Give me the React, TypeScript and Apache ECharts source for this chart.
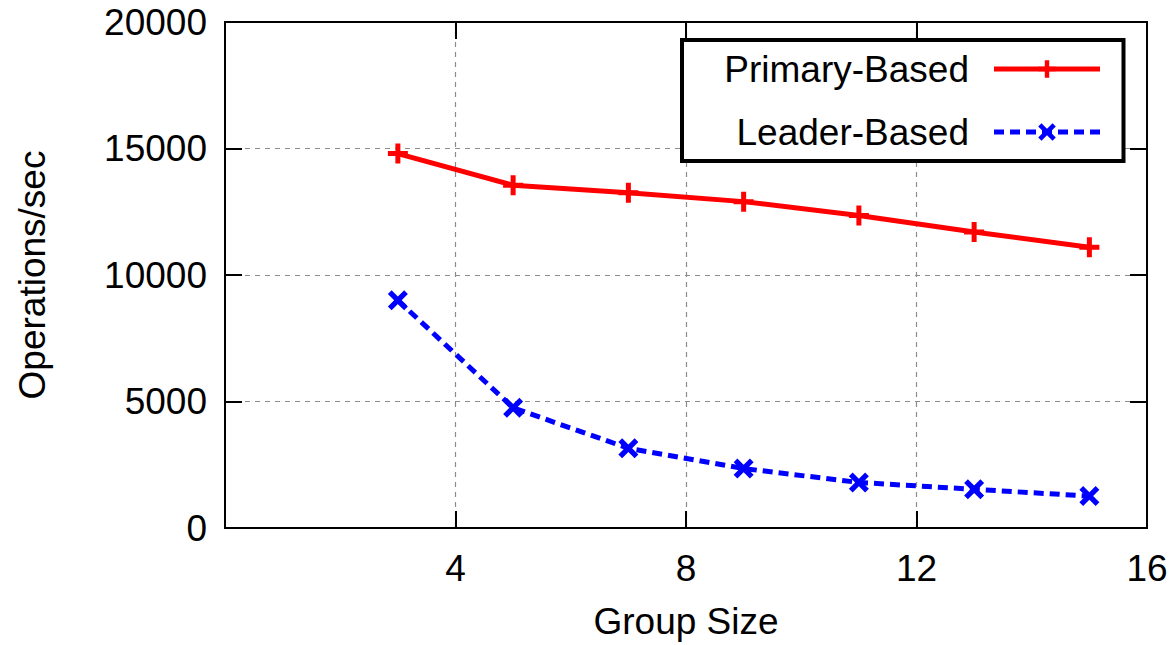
import React, { useEffect, useRef } from "react";
import * as echarts from "echarts";

const groupSizes = [3, 5, 7, 9, 11, 13, 15];
const primaryBased = [14800, 13550, 13250, 12900, 12350, 11700, 11100];
const leaderBased = [9000, 4750, 3150, 2350, 1800, 1530, 1260];
const seriesNames = ["Primary-Based", "Leader-Based"];
const xAxisTitle = "Group Size";
const yAxisTitle = "Operations/sec";

const FONT = "Liberation Sans";
const TICK = 17;
const PLUS = "path://M0,6 L6,6 L6,0 L10,0 L10,6 L16,6 L16,10 L10,10 L10,16 L6,16 L6,10 L0,10 Z";
const CROSS = "path://M0,3 L3,0 L8,5 L13,0 L16,3 L11,8 L16,13 L13,16 L8,11 L3,16 L0,13 L5,8 Z";

// ticks are drawn outward from an axis line shifted inward by TICK px,
// so they appear as inward ticks touching the frame
const tick = () => ({ show: true, inside: false, length: TICK, lineStyle: { color: "#000", width: 2 } });
const line = () => ({ show: false, onZero: false });
const split = () => ({
  show: true,
  showMinLine: false,
  showMaxLine: false,
  lineStyle: { color: "#8c8c8c", width: 1.2, type: [5, 5] as any },
});

export default function App() {
  const ref = useRef<HTMLDivElement>(null);
  useEffect(() => {
    document.body.style.margin = "0";
    const chart = echarts.init(ref.current!, null, { renderer: "svg" });
    chart.setOption({
      animation: false,
      backgroundColor: "#fff",
      grid: {
        left: 225,
        right: 28,
        top: 22,
        bottom: 116,
        show: true,
        borderColor: "#000",
        borderWidth: 2,
        backgroundColor: "transparent",
      },
      legend: {
        orient: "vertical",
        left: 682,
        top: 40,
        align: "right",
        padding: [9, 21, 9, 42],
        itemGap: 23,
        itemWidth: 106,
        itemHeight: 22,
        backgroundColor: "#fff",
        borderColor: "#000",
        borderWidth: 4,
        lineStyle: { width: 5 },
        textStyle: {
          fontFamily: FONT,
          fontSize: 37,
          color: "#000",
          width: 245,
          align: "right",
          padding: [0, 20, 0, 0],
          lineHeight: 40,
        },
        data: seriesNames,
      },
      xAxis: [
        {
          type: "value",
          position: "bottom",
          min: 0,
          max: 16,
          interval: 4,
          offset: -TICK,
          name: xAxisTitle,
          nameLocation: "middle",
          nameGap: 75 + TICK,
          nameTextStyle: { fontFamily: FONT, fontSize: 37, color: "#000" },
          axisLine: line(),
          axisTick: tick(),
          axisLabel: {
            fontFamily: FONT,
            fontSize: 37,
            color: "#000",
            margin: 22 + TICK,
            formatter: (v: number) => (v === 0 ? "" : String(v)),
          },
          splitLine: split(),
        },
        {
          type: "value",
          position: "top",
          min: 0,
          max: 16,
          interval: 4,
          offset: -TICK,
          axisLine: line(),
          axisTick: tick(),
          axisLabel: { show: false },
          splitLine: { show: false },
        },
      ],
      yAxis: [
        {
          type: "value",
          position: "left",
          min: 0,
          max: 20000,
          interval: 5000,
          offset: -TICK,
          name: yAxisTitle,
          nameLocation: "middle",
          nameGap: 174 + TICK,
          nameTextStyle: { fontFamily: FONT, fontSize: 37, color: "#000" },
          axisLine: line(),
          axisTick: tick(),
          axisLabel: {
            fontFamily: FONT,
            fontSize: 37,
            color: "#000",
            margin: 18 + TICK,
            formatter: (v: number) => String(v),
          },
          splitLine: split(),
        },
        {
          type: "value",
          position: "right",
          min: 0,
          max: 20000,
          interval: 5000,
          offset: -TICK,
          axisLine: line(),
          axisTick: tick(),
          axisLabel: { show: false },
          splitLine: { show: false },
        },
      ],
      series: [
        {
          name: seriesNames[0],
          type: "line",
          data: groupSizes.map((x, i) => [x, primaryBased[i]]),
          symbol: PLUS,
          symbolSize: 20,
          itemStyle: { color: "#ff0000" },
          lineStyle: { color: "#ff0000", width: 5 },
          z: 5,
        },
        {
          name: seriesNames[1],
          type: "line",
          data: groupSizes.map((x, i) => [x, leaderBased[i]]),
          symbol: CROSS,
          symbolSize: 20,
          itemStyle: { color: "#0000ff" },
          lineStyle: { color: "#0000ff", width: 5, type: [10, 6] as any },
          z: 5,
        },
      ],
    });
    return () => chart.dispose();
  }, []);
  return (
    <div
      ref={ref}
      style={{ position: "absolute", left: 0, top: 0, width: 1175, height: 645 }}
    />
  );
}
